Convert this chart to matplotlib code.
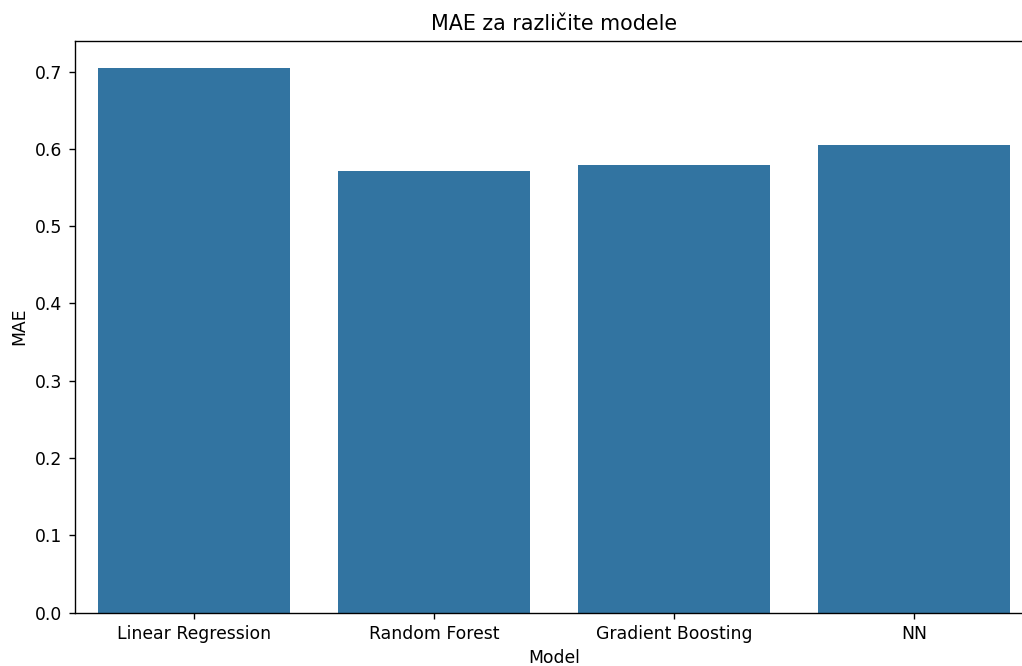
import matplotlib
matplotlib.use("Agg")
import matplotlib.pyplot as plt
import seaborn as sns
import pandas as pd

# Podaci
modeli = ["Linear Regression", "Random Forest", "Gradient Boosting", "NN"]
mae = [0.7048, 0.5716, 0.5798, 0.6056]

df = pd.DataFrame({"Model": modeli, "MAE": mae})

dpi = 124
fig, ax = plt.subplots(figsize=(1022 / dpi, 666 / dpi), dpi=dpi)
sns.barplot(data=df, x="Model", y="MAE", ax=ax)
ax.set_title("MAE za različite modele")
# desni rub osi izlazi izvan slike (kao u originalu)
fig.subplots_adjust(left=74.5 / 1022, right=1034 / 1022, top=1 - 40.7 / 666, bottom=1 - 612.5 / 666)
fig.savefig("out.png", dpi=dpi)
